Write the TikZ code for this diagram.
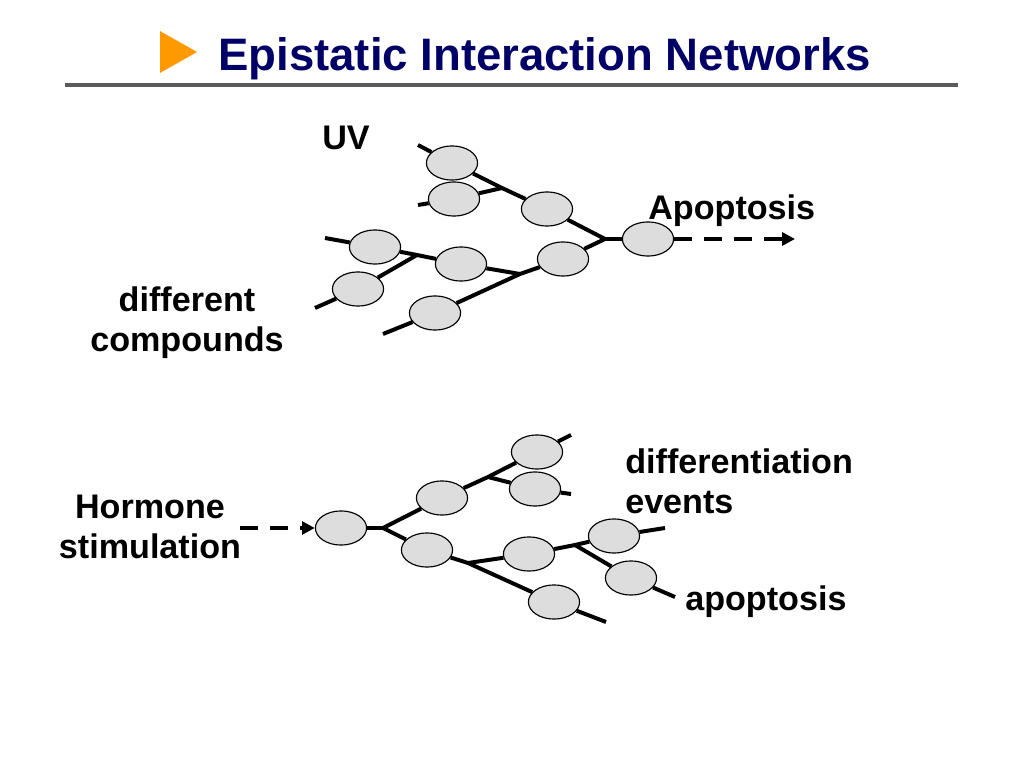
\documentclass[tikz,border=0pt]{standalone}
\usepackage{fontspec}
\setmainfont{Liberation Sans}
\usepackage{tikz}
\usetikzlibrary{arrows.meta,shapes.geometric}
\definecolor{titleblue}{RGB}{0,0,102}
\definecolor{bulletorange}{RGB}{255,153,0}
\definecolor{cellgray}{RGB}{221,221,221}
\definecolor{rulegray}{RGB}{90,90,90}

\begin{document}
\begin{tikzpicture}[x=0.703125pt, y=-0.703125pt]
% Define styles
\tikzstyle{cell} = [ellipse, minimum width=36pt, minimum height=24pt, inner sep=0pt, draw=black, line width=0.8pt, fill=cellgray]
\tikzstyle{txt} = [font=\fontsize{24}{27.6}\selectfont\bfseries, inner sep=0pt]
\tikzstyle{link} = [line width=2.8pt]
\tikzstyle{arrow} = [line width=2.8pt, dash pattern=on 12.5pt off 8.5pt, -{Triangle[length=9pt,width=9pt]}]
\useasboundingbox (0,0) rectangle (1024,768);
% Title
\fill[bulletorange] (160,31) -- (197,52) -- (160,73) -- cycle;
\node (title) [anchor=base west, inner sep=0pt, text=titleblue, font=\fontsize{32}{38}\selectfont\bfseries] at (218,71) {Epistatic Interaction Networks};
\draw[rulegray, line width=2.8pt] (65,85) -- (958,85);
% Place nodes (upper network)
\node (e1) [cell] at (452,163) {};
\node (e2) [cell] at (454,199) {};
\node (e3) [cell] at (547,209) {};
\node (e4) [cell] at (648,239) {};
\node (e5) [cell] at (375,247) {};
\node (e6) [cell] at (461,264) {};
\node (e7) [cell] at (563,259) {};
\node (e8) [cell] at (358,289) {};
\node (e9) [cell] at (435,313) {};
\coordinate (ja) at (502,188);
\coordinate (jr) at (605,239);
\coordinate (jb) at (520,274);
\coordinate (jc) at (417,255);
\coordinate (t1s) at (418,145);
\coordinate (t2s) at (418,205);
\coordinate (t5s) at (325,238);
\coordinate (t8e) at (315,308);
\coordinate (t9e) at (383,334);
\coordinate (tend) at (795,239);
% Place nodes (lower network)
\node (h0) [cell] at (341,528) {};
\node (ha) [cell] at (442,498) {};
\node (hb) [cell] at (537,452) {};
\node (hc) [cell] at (535,489) {};
\node (hd) [cell] at (427,550) {};
\node (he) [cell] at (529,554) {};
\node (hf) [cell] at (554,602) {};
\node (hg) [cell] at (614,536) {};
\node (hi) [cell] at (631,578) {};
\coordinate (k1) at (383,528);
\coordinate (k2) at (468,563);
\coordinate (k3) at (575,545);
\coordinate (k4) at (488,477);
\coordinate (hs) at (240,528);
\coordinate (b1e) at (571,435);
\coordinate (b2e) at (571,494);
\coordinate (b3e) at (606,622);
\coordinate (b4e) at (665,528);
\coordinate (b5e) at (675,597);
% Labels
\node (uv) [txt, anchor=base west] at (322,150) {UV};
\node (apo) [txt, anchor=base west] at (648,220) {Apoptosis};
\node (comp) [txt, anchor=base, align=center] at (187,351) {different\\compounds};
\node (horm) [txt, anchor=base, align=center] at (150,558) {Hormone\\stimulation};
\node (diff) [txt, anchor=base west, align=left] at (625,513) {differentiation\\events};
\node (apo2) [txt, anchor=base west] at (685,610) {apoptosis};
% Draw arrows
\draw [link] (t1s) -- (e1) -- (ja) -- (e3) -- (jr) -- (e4);
\draw [link] (t2s) -- (e2) -- (ja);
\draw [link] (jr) -- (e7) -- (jb) -- (e9) -- (t9e);
\draw [link] (t5s) -- (e5) -- (jc) -- (e6) -- (jb);
\draw [link] (jc) -- (e8) -- (t8e);
\draw [arrow] (e4) -- (tend);
\draw [arrow] (hs) -- (h0);
\draw [link] (h0) -- (k1) -- (ha) -- (k4) -- (hb) -- (b1e);
\draw [link] (k4) -- (hc) -- (b2e);
\draw [link] (k1) -- (hd) -- (k2) -- (hf) -- (b3e);
\draw [link] (k2) -- (he) -- (k3) -- (hg) -- (b4e);
\draw [link] (k3) -- (hi) -- (b5e);
\end{tikzpicture}
\end{document}
